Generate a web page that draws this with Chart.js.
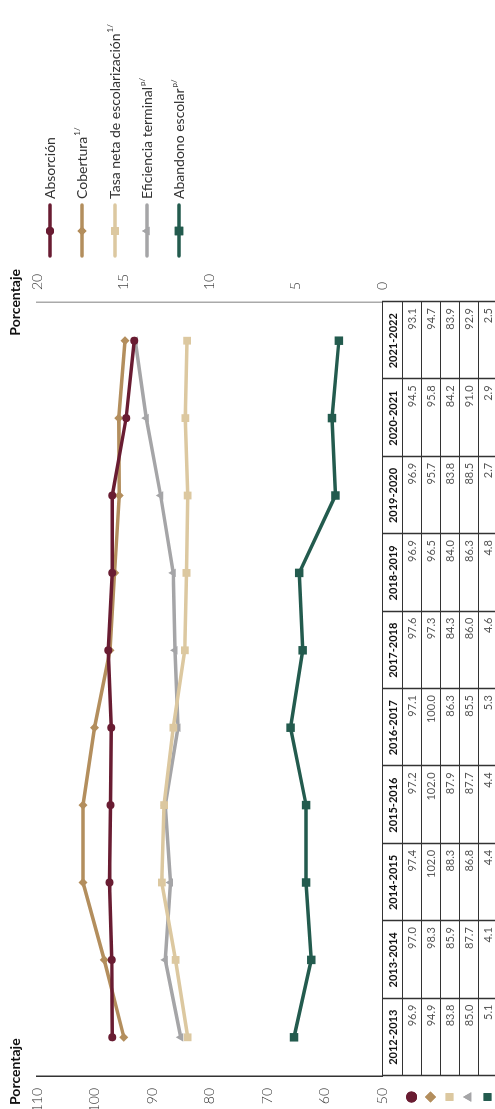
<!DOCTYPE html>
<html>
<head>
<meta charset="utf-8">
<script src="https://cdn.jsdelivr.net/npm/chart.js@4/dist/chart.umd.min.js"></script>
<style>
  html, body { margin: 0; padding: 0; background: #fff; overflow: hidden; }
  #frame {
    position: absolute; left: 0; top: 0;
    width: 1109px; height: 495px;
    transform-origin: top left;
    transform: translateY(1109px) rotate(-90deg);
  }
</style>
</head>
<body>
<div id="frame"><canvas id="chart" width="1109" height="495"></canvas></div>
<script>
const cycles = ['2012-2013', '2013-2014', '2014-2015', '2015-2016', '2016-2017', '2017-2018', '2018-2019', '2019-2020', '2020-2021', '2021-2022'];
const absorcion = [96.9, 97.0, 97.4, 97.2, 97.1, 97.6, 96.9, 96.9, 94.5, 93.1];
const cobertura = [94.9, 98.3, 102.0, 102.0, 100.0, 97.3, 96.5, 95.7, 95.8, 94.7];
const tasaNeta = [83.8, 85.9, 88.3, 87.9, 86.3, 84.3, 84.0, 83.8, 84.2, 83.9];
const eficiencia = [85.0, 87.7, 86.8, 87.7, 85.5, 86.0, 86.3, 88.5, 91.0, 92.9];
const abandono = [5.1, 4.1, 4.4, 4.4, 5.3, 4.6, 4.8, 2.7, 2.9, 2.5];

const seriesNames = ['Absorción', 'Cobertura', 'Tasa neta de escolarización', 'Eficiencia terminal', 'Abandono escolar'];
const seriesNotes = ['', '1/', '1/', 'p/', 'p/'];
const leftTicks = [50, 60, 70, 80, 90, 100, 110];
const rightTicks = [0, 5, 10, 15, 20];

const FONT = 'Lato, "Open Sans", sans-serif';

function makeSet(label, data, color, style, radius, axis) {
    return {
        label: label,
        data: data,
        borderColor: color,
        backgroundColor: color,
        borderWidth: 3.5,
        pointStyle: style,
        pointRadius: radius,
        pointHoverRadius: radius,
        pointBorderWidth: 0,
        tension: 0,
        fill: false,
        yAxisID: axis
    };
}

const datasets = [
    makeSet(seriesNames[0], absorcion, '#691c32', 'circle', 4, 'y'),
    makeSet(seriesNames[1], cobertura, '#b38e5d', 'rectRot', 4.5, 'y'),
    makeSet(seriesNames[2], tasaNeta, '#dcc8a0', 'rect', 5.5, 'y'),
    makeSet(seriesNames[3], eficiencia, '#a5a5a7', 'triangle', 5, 'y'),
    makeSet(seriesNames[4], abandono, '#235b4e', 'rect', 6, 'y2')
];

// draws titles, legend and the data table under the plot
const extras = {
    id: 'extras',
    afterDraw(chart) {
        const ctx = chart.ctx;
        const area = chart.chartArea;
        const x = chart.scales.x;

        ctx.save();
        ctx.fillStyle = '#111';
        ctx.font = 'bold 14px ' + FONT;
        ctx.textBaseline = 'middle';
        ctx.textAlign = 'left';
        ctx.fillText('Porcentaje', 4, 15);
        ctx.textAlign = 'right';
        ctx.fillText('Porcentaje', 840, 15);

        // legend
        const legendY = [50, 82, 115, 147, 179];
        datasets.forEach((ds, i) => {
            const y = legendY[i];
            ctx.strokeStyle = ds.borderColor;
            ctx.lineWidth = 3.5;
            ctx.lineCap = 'round';
            ctx.beginPath();
            ctx.moveTo(853, y);
            ctx.lineTo(904, y);
            ctx.stroke();
            ctx.fillStyle = ds.backgroundColor;
            Chart.helpers.drawPoint(ctx, { pointStyle: ds.pointStyle, radius: ds.pointRadius, rotation: 0, borderWidth: 0 }, 878, y);
            ctx.fill();
            ctx.fillStyle = '#333';
            ctx.font = '14px ' + FONT;
            ctx.textAlign = 'left';
            ctx.textBaseline = 'middle';
            ctx.fillText(ds.label, 910, y);
            if (seriesNotes[i]) {
                const w = ctx.measureText(ds.label).width;
                ctx.font = '8px ' + FONT;
                ctx.fillText(seriesNotes[i], 911 + w, y - 5);
            }
        });

        // table
        const step = x.getPixelForValue(1) - x.getPixelForValue(0);
        const left = x.getPixelForValue(0) - step / 2;
        const right = x.getPixelForValue(cycles.length - 1) + step / 2;
        const rowTop = [area.bottom, 402, 421, 440, 459, 478, 497];
        const rows = [absorcion, cobertura, tasaNeta, eficiencia, abandono];

        ctx.strokeStyle = '#333';
        ctx.lineWidth = 1;
        ctx.lineCap = 'butt';
        rowTop.forEach(ry => {
            ctx.beginPath();
            ctx.moveTo(left, Math.round(ry) + 0.5);
            ctx.lineTo(right, Math.round(ry) + 0.5);
            ctx.stroke();
        });
        for (let i = 0; i <= cycles.length; i++) {
            const cx = Math.round(left + i * step) + 0.5;
            ctx.lineWidth = 1.5;
            ctx.beginPath();
            ctx.moveTo(cx, rowTop[0]);
            ctx.lineTo(cx, 495);
            ctx.stroke();
        }

        cycles.forEach((c, i) => {
            const cx = x.getPixelForValue(i);
            ctx.fillStyle = '#111';
            ctx.font = 'bold 11px ' + FONT;
            ctx.textAlign = 'center';
            ctx.fillText(c, cx, (rowTop[0] + rowTop[1]) / 2 + 1);
            ctx.fillStyle = '#555';
            ctx.font = '11px ' + FONT;
            ctx.textAlign = 'right';
            rows.forEach((vals, r) => {
                ctx.fillText(vals[i].toFixed(1), cx + step / 2 - 6, (rowTop[r + 1] + rowTop[r + 2]) / 2 + 1);
            });
        });

        // row markers
        datasets.forEach((ds, r) => {
            const my = (rowTop[r + 1] + rowTop[r + 2]) / 2;
            ctx.fillStyle = ds.backgroundColor;
            Chart.helpers.drawPoint(ctx, { pointStyle: ds.pointStyle, radius: 5.5, rotation: 0, borderWidth: 0 }, 12, my);
            ctx.fill();
        });
        ctx.restore();
    }
};

Chart.defaults.font.family = FONT;

new Chart(document.getElementById('chart'), {
    type: 'line',
    data: { labels: cycles, datasets: datasets },
    options: {
        responsive: false,
        animation: false,
        devicePixelRatio: 1,
        layout: { padding: { top: 37, bottom: 113, left: 0, right: 0 } },
        plugins: { legend: { display: false }, tooltip: { enabled: false } },
        scales: {
            x: { display: false, offset: true },
            y: {
                position: 'left',
                min: 50, max: 110,
                afterBuildTicks: axis => { axis.ticks = leftTicks.map(v => ({ value: v })); },
                afterFit: axis => { axis.width = 33; },
                grid: { display: false, drawTicks: false },
                border: { display: true, color: '#333', width: 1.5 },
                ticks: { padding: 12, color: '#333', font: { size: 14, weight: '300' } }
            },
            y2: {
                position: 'right',
                min: 0, max: 20,
                afterBuildTicks: axis => { axis.ticks = rightTicks.map(v => ({ value: v })); },
                afterFit: axis => { axis.width = 302; },
                grid: { display: false, drawTicks: false },
                border: { display: true, color: '#aaa', width: 1.5 },
                ticks: { padding: 12, color: '#333', font: { size: 14, weight: '300' } }
            }
        }
    },
    plugins: [extras]
});
</script>
</body>
</html>
